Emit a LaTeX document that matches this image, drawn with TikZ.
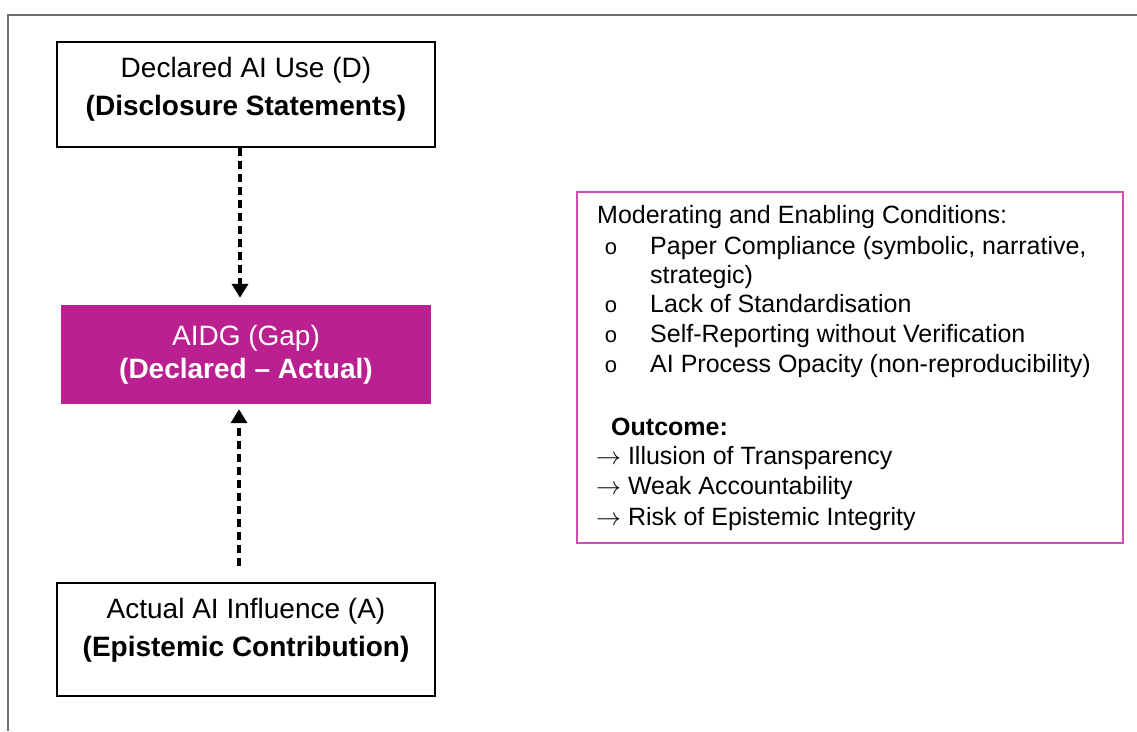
\documentclass[tikz,border=0pt]{standalone}
\usepackage{fontspec}
\setmainfont{Liberation Sans}
\usetikzlibrary{arrows.meta}
\definecolor{gapmagenta}{RGB}{186,32,143}
\definecolor{framemagenta}{RGB}{210,76,182}
\definecolor{framegray}{RGB}{112,112,112}

\begin{document}
\begin{tikzpicture}[
    x=1pt, y=-1pt,
    plainbox/.style={rectangle, draw=black, line width=1.8pt, minimum width=378pt},
    boxtext/.style={align=center, inner sep=0pt, font=\fontsize{28}{38}\selectfont},
    gapbox/.style={rectangle, fill=gapmagenta, text=white, align=center, minimum width=370pt, minimum height=99pt, font=\fontsize{28}{33}\selectfont},
    condbox/.style={rectangle, draw=framemagenta, line width=1.8pt, minimum width=546pt, minimum height=351pt},
    condtext/.style={anchor=base west, inner sep=0pt, font=\fontsize{25}{30}\selectfont},
    bullet/.style={anchor=base, inner sep=0pt, font=\fontsize{22}{24}\selectfont},
    flow/.style={line width=3.5pt, dash pattern=on 8pt off 5pt, -{Triangle[width=16pt,length=14pt]}},
]
  \useasboundingbox (0,0) rectangle (1137,731);
  \draw [framegray, line width=1.6pt] (8,731) -- (8,15) -- (1137,15);

  % left column
  \node [plainbox, minimum height=105pt]  (declared)     at (246,94.5)  {};
  \node [boxtext]                         (declaredtext) at ([yshift=5pt]declared.center)
        {Declared AI Use (D)\\\textbf{(Disclosure Statements)}};
  \node [gapbox]                          (gap)          at (246,354.5) {AIDG (Gap)\\\textbf{(Declared -- Actual)}};
  \node [plainbox, minimum height=113pt]  (actual)       at (246,639.5) {};
  \node [boxtext]                         (actualtext)   at ([yshift=9.5pt]actual.center)
        {Actual AI Influence (A)\\\textbf{(Epistemic Contribution)}};

  \draw [flow, shorten >=7pt]  ([xshift=-6pt]declared.south) -- ([xshift=-6pt]gap.north);
  \draw [flow, shorten <=16pt, shorten >=5pt] ([xshift=-7pt]actual.north) -- ([xshift=-7pt]gap.south);

  % conditions
  \node [condbox]   (cond)     at (850,367.5) {};
  \node [condtext]  (condhead) at (597,223)   {Moderating and Enabling Conditions:};
  \node [bullet]    (bulleta)  at (611,254)   {o};
  \node [condtext]  (itema)    at (650,254)   {Paper Compliance (symbolic, narrative,};
  \node [condtext]  (itemaa)   at (650,283)   {strategic)};
  \node [bullet]    (bulletb)  at (611,312)   {o};
  \node [condtext]  (itemb)    at (650,312)   {Lack of Standardisation};
  \node [bullet]    (bulletc)  at (611,342)   {o};
  \node [condtext]  (itemc)    at (650,342)   {Self-Reporting without Verification};
  \node [bullet]    (bulletd)  at (611,372)   {o};
  \node [condtext]  (itemd)    at (650,372)   {AI Process Opacity (non-reproducibility)};

  \node [condtext]  (outcome)  at (611,435)   {\textbf{Outcome:}};
  \node [condtext]  (outa)     at (596,464)   {$\rightarrow$ Illusion of Transparency};
  \node [condtext]  (outb)     at (596,494)   {$\rightarrow$ Weak Accountability};
  \node [condtext]  (outc)     at (596,525)   {$\rightarrow$ Risk of Epistemic Integrity};
\end{tikzpicture}
\end{document}
